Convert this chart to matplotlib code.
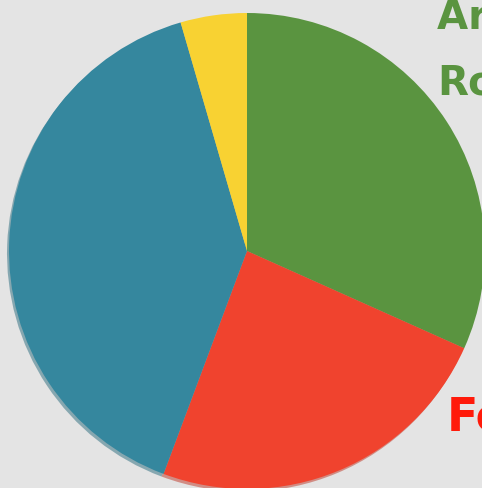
import matplotlib
matplotlib.use("Agg")
import matplotlib.pyplot as plt

# slices, clockwise from 12 o'clock
labels = ["Arts", "Food", "Other", "Misc"]
values = [31.7, 24.0, 39.8, 4.5]
colors = ["#5a9440", "#f0432e", "#35879e", "#f8d232"]

bg = "#e4e4e4"
fig = plt.figure(figsize=(4.82, 4.89), dpi=100, facecolor=bg)
ax = fig.add_axes([0, 0, 1, 1])
ax.set_facecolor(bg)

ax.pie(values, colors=colors, startangle=90, counterclock=False, radius=1,
       shadow={"ox": -0.006, "oy": -0.008, "shade": 0.2},
       wedgeprops={"linewidth": 0})

# px scale: centre (247,252), radius 238 px
ax.set_xlim(-247 / 238, (482 - 247) / 238)
ax.set_ylim(-(489 - 252) / 238, 252 / 238)
ax.set_aspect("auto")
ax.axis("off")

ax.text(0.80, 0.933, "Arts &", color="#5a9440", fontsize=29, fontweight="heavy",
        ha="left", va="baseline")
ax.text(0.80, 0.66, "Roads", color="#5a9440", fontsize=29, fontweight="heavy",
        ha="left", va="baseline")
ax.text(0.84, -0.748, "Food", color="#ff1a0a", fontsize=33, fontweight="heavy",
        ha="left", va="baseline")

fig.savefig("out.png", dpi=100, facecolor=bg)
